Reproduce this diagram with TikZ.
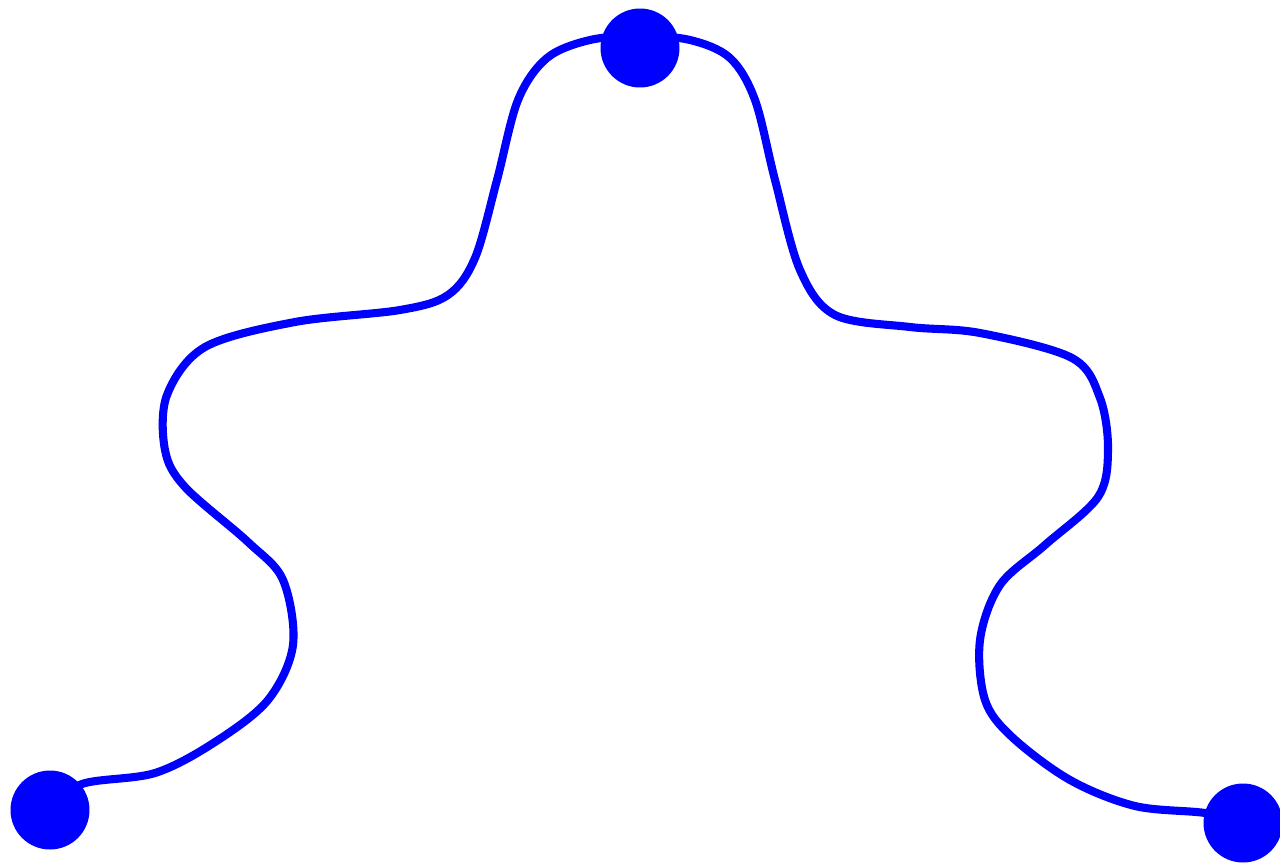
\documentclass[tikz,border=0pt]{standalone}
\usepackage{tikz}
\usetikzlibrary{positioning}

\begin{document}
\begin{tikzpicture}[
  x=0.02cm, y=-0.02cm,
  wave/.style={draw=blue,line width=4.6pt,line cap=round,line join=round},
  dot/.style={circle,fill=blue,inner sep=0pt,minimum size=1.58cm}
]
\useasboundingbox (0,0) rectangle (1280,865);
\coordinate (lft) at (50,810);
\coordinate (top) at (640,48);
\coordinate (crest) at (640,36);
\coordinate (rgt) at (1243,823);

\draw[wave] plot[smooth,tension=0.55] coordinates {
  (lft) (82,784) (155,773) (215,742) (268,700) (293,645) (283,580)
  (248,542) (185,487) (165,450) (167,395) (205,347) (295,322) (400,310)
  (448,295) (475,258) (497,180) (518,100) (547,58) (590,40) (crest)
  (690,40) (730,58) (755,100) (775,180) (800,270) (835,315) (910,327) (980,333)
  (1072,358) (1100,398) (1108,450) (1098,497) (1045,545) (1000,585)
  (980,640) (985,700) (1012,737) (1070,780) (1135,806) (1205,813) (rgt)};

\node[dot] (lftdot) at (lft) {};
\node[dot] (topdot) at (top) {};
\node[dot] (rgtdot) at (rgt) {};
\end{tikzpicture}
\end{document}
